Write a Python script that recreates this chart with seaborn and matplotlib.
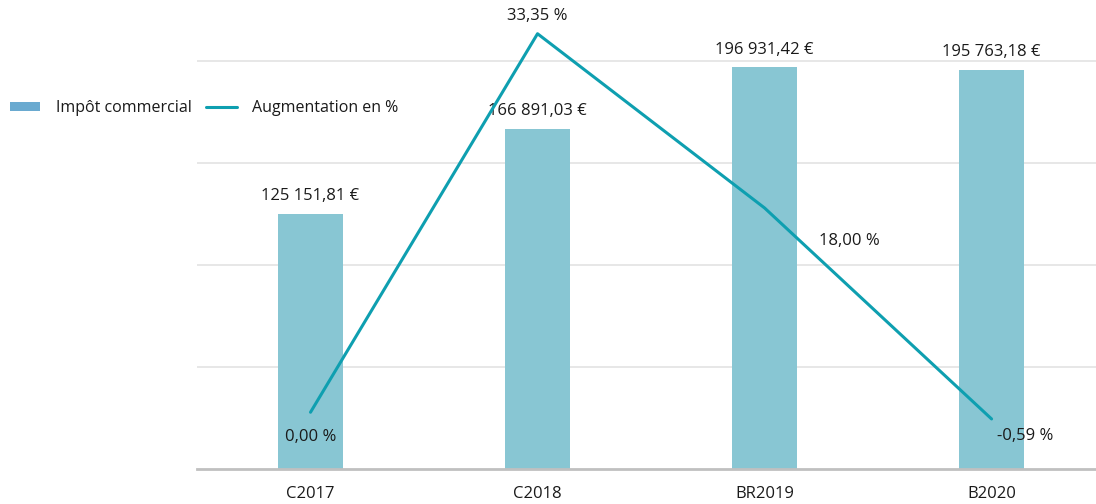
import matplotlib
matplotlib.use("Agg")
import matplotlib.pyplot as plt
import seaborn as sns
import numpy as np
import pandas as pd
from matplotlib.patches import Patch
from matplotlib.lines import Line2D

categories = ["C2017", "C2018", "BR2019", "B2020"]
tax_values = [125151.81, 166891.03, 196931.42, 195763.18]
pct_values = [0.00, 33.35, 18.00, -0.59]
tax_labels = ["125 151,81 €", "166 891,03 €", "196 931,42 €", "195 763,18 €"]
pct_labels = ["0,00 %", "33,35 %", "18,00 %", "-0,59 %"]
legend_labels = ["Impôt commercial", "Augmentation en %"]

sns.set_style("white")
plt.rcParams['font.family'] = ['Open Sans', 'DejaVu Sans']

bar_color = "#88C6D3"
legend_bar_color = "#6AAAD0"
line_color = "#0E9FB0"
text_color = "#1a1a1a"
fs = 12

fig = plt.figure(figsize=(10.96, 5.04), dpi=100)
ax = fig.add_axes([197/1096, 35/504, 1 - 197/1096, (469-15)/504])

df = pd.DataFrame({"cat": categories, "val": tax_values})
sns.barplot(data=df, x="cat", y="val", ax=ax, color=bar_color, width=0.29,
            saturation=1, edgecolor="none")
ax.set_ylim(0, 200000 * 454 / 408)
ax.set_xlim(-0.5, 3.46)
ax.set_yticks([50000, 100000, 150000, 200000])
ax.yaxis.grid(True, color="#E3E3E3", linewidth=1.2)
ax.set_axisbelow(True)
ax.tick_params(axis="y", left=False, labelleft=False, length=0)
ax.tick_params(axis="x", bottom=False, length=0, labelsize=fs, colors=text_color, pad=12)
ax.set_xlabel("")
ax.set_ylabel("")
for s in ["top", "right", "left"]:
    ax.spines[s].set_visible(False)
ax.spines["bottom"].set_color("#C0C0C0")
ax.spines["bottom"].set_linewidth(2)

for i, (v, lab) in enumerate(zip(tax_values, tax_labels)):
    ax.annotate(lab, (i, v), xytext=(0, 7), textcoords="offset points",
                ha="center", va="bottom", fontsize=fs, color=text_color)

ax2 = ax.twinx()
ldf = pd.DataFrame({"x": np.arange(len(categories)), "pct": pct_values})
sns.lineplot(data=ldf, x="x", y="pct", ax=ax2, color=line_color, linewidth=2.2)
ax2.set_ylim(-5, 35)
ax2.set_xlim(-0.5, 3.46)
ax2.axis("off")

offsets = [(0, -18, "center", "center"), (0, 13, "center", "center"),
           (39, -24, "left", "center"), (4, -12, "left", "center")]
for i, (v, lab) in enumerate(zip(pct_values, pct_labels)):
    dx, dy, ha, va = offsets[i]
    ax2.annotate(lab, (i, v), xytext=(dx, dy), textcoords="offset points",
                 ha=ha, va=va, fontsize=fs, color=text_color)

handles = [Patch(facecolor=legend_bar_color, edgecolor="none"),
           Line2D([0], [0], color=line_color, linewidth=2.2)]
fig.legend(handles, legend_labels, loc="center left", bbox_to_anchor=(0.0, 1 - 108/504),
           ncol=2, frameon=False, fontsize=11.5, handlelength=1.9, handleheight=0.5,
           handletextpad=1.0, columnspacing=0.9, labelcolor=text_color, borderaxespad=0.2)

fig.savefig("out.png", dpi=100)
